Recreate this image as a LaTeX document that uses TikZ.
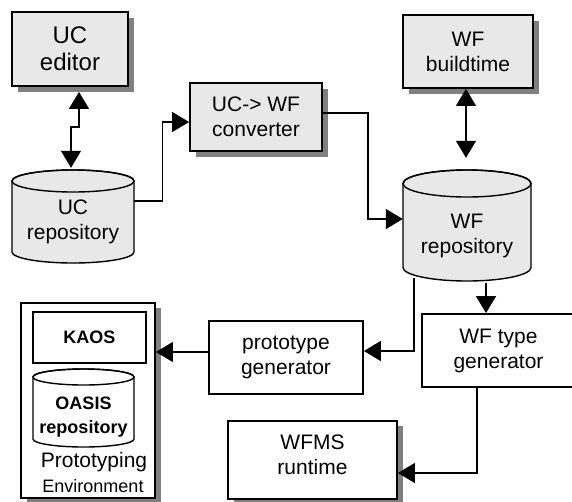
\documentclass[tikz,border=0pt]{standalone}
\usepackage{fontspec}
\setmainfont{Liberation Sans}
\usetikzlibrary{arrows.meta,shadows,calc}
\definecolor{boxgray}{RGB}{232,232,232}
\definecolor{shadowgray}{RGB}{128,128,128}
\newcommand\drawcyl[6]{%
  \pgfmathsetmacro\cylcx{(#1+#2)/2}%
  \pgfmathsetmacro\cylrx{(#2-#1)/2}%
  \pgfmathsetmacro\cyltc{#3+#5}%
  \pgfmathsetmacro\cylbc{#4-#5}%
  \draw[cylline,fill=#6] (#1,\cyltc) -- (#1,\cylbc)
    arc[start angle=180,end angle=0,x radius=\cylrx,y radius=#5]
    -- (#2,\cyltc)
    arc[start angle=0,end angle=-180,x radius=\cylrx,y radius=#5] -- cycle;
  \draw[cylline] (\cylcx,\cyltc) ellipse[x radius=\cylrx,y radius=#5];
}
\begin{document}
\begin{tikzpicture}[x=1pt,y=-1pt,
  txt/.style={font=\fontsize{21}{25}\selectfont, align=center},
  bigtxt/.style={font=\fontsize{24}{27}\selectfont, align=center},
  btxt/.style={font=\fontsize{18}{24}\selectfont\bfseries, align=center},
  shad/.style={drop shadow={shadow xshift=6pt, shadow yshift=-6pt, fill=shadowgray, opacity=1}},
  shadsmall/.style={drop shadow={shadow xshift=6pt, shadow yshift=-5pt, fill=shadowgray, opacity=1}},
  graybox/.style={draw, line width=1.8pt, fill=boxgray, inner sep=0pt, txt, shad},
  whitebox/.style={draw, line width=1.8pt, fill=white, inner sep=0pt, txt},
  cylnode/.style={inner sep=0pt},
  cylline/.style={line width=1.4pt},
  conn/.style={line width=1.3pt},
  arr/.style={conn,-{Triangle[length=17pt,width=20pt]}},
  biarr/.style={conn,{Triangle[length=17pt,width=20pt]}-{Triangle[length=17pt,width=20pt]}},
]
\path[use as bounding box] (0,0) rectangle (572,501);
\clip (0,0) rectangle (572,501);

% grey boxes with shadow
\node[graybox, bigtxt, minimum width=116pt, minimum height=74pt] (ucedit) at (70,49) {UC\\editor};
\node[graybox, minimum width=132pt, minimum height=68pt] (conv) at (256,117) {UC-> WF\\converter};
\node[graybox, minimum width=130pt, minimum height=73pt] (wfbuild) at (468,51.5) {WF\\buildtime};

% white boxes
\node[whitebox, minimum width=154pt, minimum height=73pt] (protogen) at (286,357.5) {prototype\\generator};
\node[whitebox, minimum width=153pt, minimum height=73pt] (wftype) at (498.5,350.5) {WF type\\generator};
\node[whitebox, shadsmall, minimum width=169pt, minimum height=78pt] (wfms) at (312.5,460) {WFMS\\runtime\rule[-10pt]{0pt}{10pt}};

% cylinders
\drawcyl{12}{134}{170}{263}{11}{boxgray}
\node[cylnode, txt, minimum width=122pt, minimum height=93pt] (ucrepo) at (73,216.5) {\rule{0pt}{24.4pt}UC\\repository};
\drawcyl{403}{531}{170}{281}{13.5}{boxgray}
\node[cylnode, txt, minimum width=128pt, minimum height=111pt] (wfrepo) at (467,225.5) {\rule{0pt}{35pt}WF\\repository};

% prototyping environment
\node[draw, line width=1.8pt, fill=white, shadsmall, minimum width=134pt, minimum height=195pt] (env) at (88,400.5) {};
\node[draw, line width=1.6pt, fill=white, btxt, minimum width=113pt, minimum height=51pt] (kaos) at (89.5,337.5) {KAOS};
\drawcyl{33}{134}{369}{447}{8}{white}
\node[cylnode, btxt, minimum width=101pt, minimum height=78pt] (oasis) at (83.5,408) {\rule{0pt}{29.8pt}OASIS\\repository};
\node[anchor=base, inner sep=0pt, font=\fontsize{21}{25}\selectfont] (protolbl) at (94,467) {Prototyping};
\node[anchor=base, inner sep=0pt, font=\fontsize{18}{22}\selectfont] (envlbl) at (93,492) {Environment};

% connectors
\draw[biarr] ([xshift=9pt,yshift=-5pt]ucedit.south) -- ++(0,35) -| ([xshift=-2pt,yshift=2pt]ucrepo.north);
\draw[arr] ([yshift=15.5pt]ucrepo.east) -- ++(28,0) |- ([yshift=-5pt]conv.west);
\draw[arr] ([yshift=4pt]conv.east) -- ++(45,0) |- ([yshift=6.5pt]wfrepo.west);
\draw[biarr] ([xshift=-2pt]wfbuild.south) -- ([xshift=-1pt,yshift=12pt]wfrepo.north);
\draw[arr] ([xshift=-53pt,yshift=3pt]wfrepo.south) |- ([yshift=6.5pt]protogen.east);
\draw[arr] ([xshift=19pt,yshift=-2pt]wfrepo.south) -- ([xshift=-12.5pt]wftype.north);
\draw[arr] ([xshift=-21.5pt]wftype.south) |- ([yshift=-13pt]wfms.east);
\coordinate (pgw) at ([yshift=5.5pt]protogen.west);
\draw[arr] (pgw) -- (pgw -| env.east);
\end{tikzpicture}
\end{document}
